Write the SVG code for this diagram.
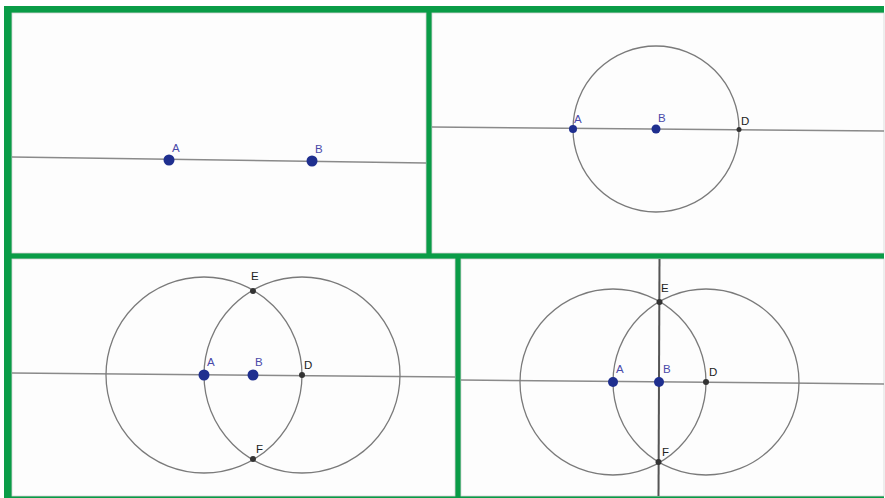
<svg xmlns="http://www.w3.org/2000/svg" width="885" height="498" viewBox="0 0 885 498">
<style>
.frame{fill:#0a9c47}
.panel{fill:#fdfdfd;stroke:#d4d4d4;stroke-width:0.8}
.ln{stroke:#8a8a8a;stroke-width:1.5;fill:none}
.circ{stroke:#7a7a7a;stroke-width:1.3;fill:none}
.pt{fill:#1f2f8f}
.bk{fill:#333}
.lb{font-family:"Liberation Sans",Arial,sans-serif;fill:#4a4aa8;font-size:11.5px}
.lk{font-family:"Liberation Sans",Arial,sans-serif;fill:#222;font-size:11.5px}
</style>
<rect x="0" y="0" width="885" height="498" fill="#ffffff"/>
<g id="frame">
<rect class="frame" x="4" y="6" width="880" height="492"/>
<rect class="frame" x="4" y="496" width="880" height="2" opacity="0.35"/>
</g>
<g id="panel1">
<rect class="panel" x="12" y="13" width="414" height="240"/>
<line class="ln" x1="12" y1="157" x2="426" y2="163"/>
<circle class="pt" cx="169" cy="160" r="5.5"/>
<circle class="pt" cx="312" cy="161" r="5.5"/>
<text class="lb" x="172" y="152">A</text>
<text class="lb" x="315" y="153">B</text>
</g>
<g id="panel2">
<rect class="panel" x="432" y="13" width="452" height="240"/>
<line class="ln" x1="432" y1="127" x2="884" y2="131"/>
<circle class="circ" cx="656" cy="129" r="83"/>
<circle class="pt" cx="573" cy="129" r="4"/>
<circle class="pt" cx="656" cy="129" r="4.5"/>
<circle class="bk" cx="739" cy="129.5" r="2.5"/>
<text class="lb" x="574" y="123" font-size="9">A</text>
<text class="lb" x="658" y="122" font-size="9">B</text>
<text class="lk" x="741" y="125" font-size="9">D</text>
</g>
<g id="panel3">
<rect class="panel" x="12" y="259" width="443" height="237"/>
<line class="ln" x1="12" y1="373" x2="455" y2="377"/>
<circle class="circ" cx="204" cy="375" r="98"/>
<circle class="circ" cx="302" cy="375" r="98"/>
<circle class="pt" cx="204" cy="375" r="5.5"/>
<circle class="pt" cx="253" cy="375" r="5.5"/>
<circle class="bk" cx="302" cy="375" r="3"/>
<circle class="bk" cx="253" cy="291" r="3"/>
<circle class="bk" cx="253" cy="459" r="3"/>
<text class="lb" x="207" y="366">A</text>
<text class="lb" x="255" y="366">B</text>
<text class="lk" x="304" y="369">D</text>
<text class="lk" x="251" y="280">E</text>
<text class="lk" x="256" y="453">F</text>
</g>
<g id="panel4">
<rect class="panel" x="461" y="259" width="423" height="237"/>
<line class="ln" x1="461" y1="380" x2="884" y2="384"/>
<line x1="659.5" y1="259" x2="658.5" y2="496" stroke="#555" stroke-width="2"/>
<circle class="circ" cx="613" cy="382" r="93"/>
<circle class="circ" cx="706" cy="382" r="93"/>
<circle class="pt" cx="613" cy="382" r="5"/>
<circle class="pt" cx="659" cy="382" r="5"/>
<circle class="bk" cx="706" cy="382" r="3"/>
<circle class="bk" cx="659.5" cy="302" r="3"/>
<circle class="bk" cx="658.5" cy="462" r="3"/>
<text class="lb" x="616" y="373">A</text>
<text class="lb" x="663" y="373">B</text>
<text class="lk" x="709" y="376">D</text>
<text class="lk" x="661" y="292">E</text>
<text class="lk" x="662" y="456">F</text>
</g>
</svg>
